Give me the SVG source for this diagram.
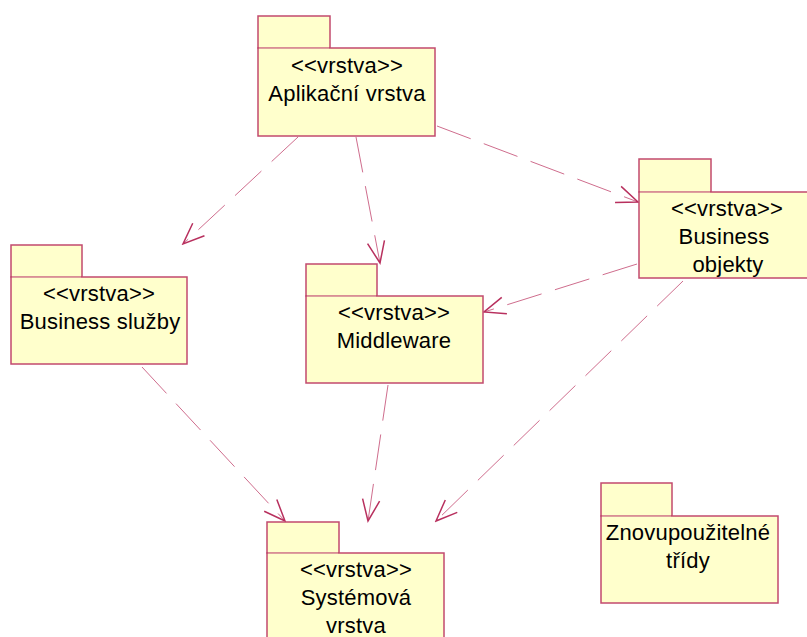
<svg xmlns="http://www.w3.org/2000/svg" width="807" height="637" viewBox="0 0 807 637">
<defs>
<style>
.box{fill:#ffffcc;stroke:#c24a6e;stroke-width:1.5}
.seam{stroke:#ecc9b8;stroke-width:1.2}
.t{font-family:"Liberation Sans",Arial,sans-serif;font-size:22px;letter-spacing:0.2px;fill:#000;text-anchor:middle}
.dep{fill:none;stroke:#cf6d8d;stroke-width:1;stroke-dasharray:36 14;marker-end:url(#open)}
</style>
<marker id="open" markerUnits="userSpaceOnUse" viewBox="-24 -11 26 22" markerWidth="26" markerHeight="22" refX="0" refY="0" orient="auto">
<path d="M-21.3,-8.6 L0,0 L-21.3,8.6" fill="none" stroke="#b8305e" stroke-width="1.5" stroke-dasharray="none"/>
</marker>
</defs>
<rect width="807" height="637" fill="#ffffff"/>
<g id="connectors">
<line class="dep" x1="298" y1="137" x2="183" y2="244"/>
<line class="dep" x1="356" y1="137" x2="380" y2="263"/>
<line class="dep" x1="437" y1="126" x2="638" y2="202"/>
<line class="dep" x1="637" y1="264" x2="484" y2="312"/>
<line class="dep" x1="683" y1="281" x2="436" y2="521"/>
<line class="dep" x1="388" y1="385" x2="368" y2="521"/>
<line class="dep" x1="142" y1="367" x2="285" y2="521"/>
</g>
<g id="aplikacni">
<rect class="box" x="258" y="16" width="72" height="32"/>
<rect class="box" x="258" y="48" width="177" height="88"/>
<line class="seam" x1="259" y1="48" x2="329" y2="48"/>
<text class="t" x="347" y="73">&lt;&lt;vrstva&gt;&gt;</text>
<text class="t" x="347" y="101">Aplikační vrstva</text>
</g>
<g id="business-sluzby">
<rect class="box" x="11" y="245" width="71" height="32"/>
<rect class="box" x="11" y="277" width="176" height="87"/>
<line class="seam" x1="12" y1="277" x2="81" y2="277"/>
<text class="t" x="99" y="301">&lt;&lt;vrstva&gt;&gt;</text>
<text class="t" x="100" y="329">Business služby</text>
</g>
<g id="middleware">
<rect class="box" x="306" y="264" width="71" height="32"/>
<rect class="box" x="306" y="296" width="177" height="87"/>
<line class="seam" x1="307" y1="296" x2="376" y2="296"/>
<text class="t" x="394" y="320">&lt;&lt;vrstva&gt;&gt;</text>
<text class="t" x="394" y="348">Middleware</text>
</g>
<g id="business-objekty">
<rect class="box" x="639" y="159" width="72" height="33"/>
<rect class="box" x="639" y="192" width="177" height="86"/>
<line class="seam" x1="640" y1="192" x2="710" y2="192"/>
<text class="t" x="727" y="216">&lt;&lt;vrstva&gt;&gt;</text>
<text class="t" x="724" y="244">Business</text>
<text class="t" x="728" y="272">objekty</text>
</g>
<g id="systemova">
<rect class="box" x="267" y="522" width="72" height="31"/>
<rect class="box" x="267" y="553" width="177" height="90"/>
<line class="seam" x1="268" y1="553" x2="338" y2="553"/>
<text class="t" x="356" y="577">&lt;&lt;vrstva&gt;&gt;</text>
<text class="t" x="356" y="605">Systémová</text>
<text class="t" x="356" y="633">vrstva</text>
</g>
<g id="znovupouzitelne">
<rect class="box" x="601" y="483" width="71" height="33"/>
<rect class="box" x="601" y="516" width="177" height="87"/>
<line class="seam" x1="602" y1="516" x2="671" y2="516"/>
<text class="t" x="688" y="540">Znovupoužitelné</text>
<text class="t" x="688" y="568">třídy</text>
</g>
</svg>
